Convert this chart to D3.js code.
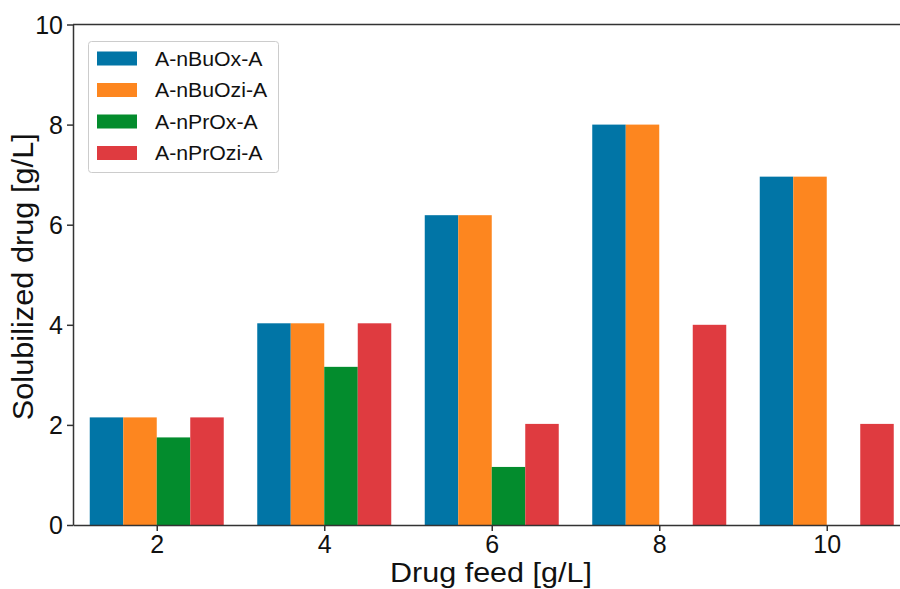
<!DOCTYPE html>
<html lang="en">
<head>
  <meta charset="UTF-8" />
  <title>Solubilized drug vs drug feed</title>
  <script src="https://d3js.org/d3.v7.min.js"></script>
  <style>
    body {
      margin: 0;
      background: #fff;
      font-family: "Liberation Sans", Arial, sans-serif;
    }
    .axis path, .axis line {
      stroke: #333;
      stroke-width: 1.5;
    }
    .axis text {
      font-family: "Liberation Sans", Arial, sans-serif;
      font-size: 25px;
      fill: #111;
    }
  </style>
</head>
<body>

<svg id="chart" width="900" height="589"></svg>

<script>
/* ---------------- DATA ---------------- */

const feeds = [2, 4, 6, 8, 10];
const seriesNames = ["A-nBuOx-A", "A-nBuOzi-A", "A-nPrOx-A", "A-nPrOzi-A"];
const nBuOx  = [2.15, 4.03, 6.19, 8.0, 6.96];
const nBuOzi = [2.15, 4.03, 6.19, 8.0, 6.96];
const nPrOx  = [1.75, 3.16, 1.16, 0, 0];
const nPrOzi = [2.15, 4.03, 2.02, 4.0, 2.02];
const yTicks = [0, 2, 4, 6, 8, 10];

const colors = ["#0175a6", "#fd861f", "#038c2d", "#df3b40"];
const series = [nBuOx, nBuOzi, nPrOx, nPrOzi];

/* ---------------- SETUP ---------------- */

const svg = d3.select("#chart");
const plotL = 73, plotR = 910.5, plotT = 24.5, plotB = 525;

const x = d3.scaleLinear().domain([1, 11]).range([plotL, plotR]);
const y = d3.scaleLinear().domain([0, 10]).range([plotB, plotT]);

const barW = 0.4;
const offsets = [-0.6, -0.2, 0.2, 0.6];

/* ---------------- BARS ---------------- */

series.forEach((vals, i) => {
  svg.append("g")
    .selectAll("rect")
    .data(vals.map((v, j) => ({ feed: feeds[j], v })))
    .enter()
    .append("rect")
    .attr("x", d => x(d.feed + offsets[i] - barW / 2))
    .attr("width", x(barW) - x(0))
    .attr("y", d => y(d.v))
    .attr("height", d => y(0) - y(d.v))
    .attr("fill", colors[i]);
});

/* ---------------- AXES ---------------- */

svg.append("g")
  .attr("class", "axis")
  .attr("transform", `translate(0,${plotB})`)
  .call(d3.axisBottom(x).tickValues(feeds).tickSize(6).tickPadding(6).tickSizeOuter(0));

svg.append("g")
  .attr("class", "axis")
  .attr("transform", `translate(${plotL},0)`)
  .call(d3.axisLeft(y).tickValues(yTicks).tickSize(6).tickPadding(4).tickSizeOuter(0));

// top spine
svg.append("line")
  .attr("x1", plotL).attr("x2", plotR)
  .attr("y1", plotT).attr("y2", plotT)
  .attr("stroke", "#333").attr("stroke-width", 1.5);

svg.selectAll(".axis text").attr("dy", null);
svg.selectAll(".axis .tick text").each(function () {
  const t = d3.select(this);
  if (t.attr("y") && +t.attr("y") > 0) t.attr("y", 28);
  else t.attr("dy", "0.35em");
});

/* ---------------- LABELS ---------------- */

// the source text is a bit wider than Arial, so stretch it slightly
function widen(sel, k) {
  sel.each(function () {
    const w = this.getComputedTextLength();
    d3.select(this).attr("textLength", w * k).attr("lengthAdjust", "spacingAndGlyphs");
  });
}

svg.append("text")
  .attr("x", 491)
  .attr("y", 582)
  .attr("text-anchor", "middle")
  .attr("font-size", 27)
  .attr("fill", "#111")
  .text("Drug feed [g/L]")
  .call(widen, 1.13);

svg.append("text")
  .attr("transform", `translate(33,${(plotT + plotB) / 2 + 2}) rotate(-90)`)
  .attr("text-anchor", "middle")
  .attr("font-size", 29)
  .attr("fill", "#111")
  .text("Solubilized drug [g/L]")
  .call(widen, 1.06);

/* ---------------- LEGEND ---------------- */

const legend = svg.append("g");
legend.append("rect")
  .attr("x", 88.5).attr("y", 41.5)
  .attr("width", 190).attr("height", 131)
  .attr("rx", 3)
  .attr("fill", "#fff")
  .attr("stroke", "#ccc");

seriesNames.forEach((name, i) => {
  const cy = 58.5 + i * 31.5;
  legend.append("rect")
    .attr("x", 97).attr("y", cy - 7)
    .attr("width", 40).attr("height", 14)
    .attr("fill", colors[i]);
  legend.append("text")
    .attr("x", 155).attr("y", cy + 7)
    .attr("font-size", 19.5)
    .attr("fill", "#111")
    .text(name)
    .call(widen, 1.09);
});
</script>

</body>
</html>
